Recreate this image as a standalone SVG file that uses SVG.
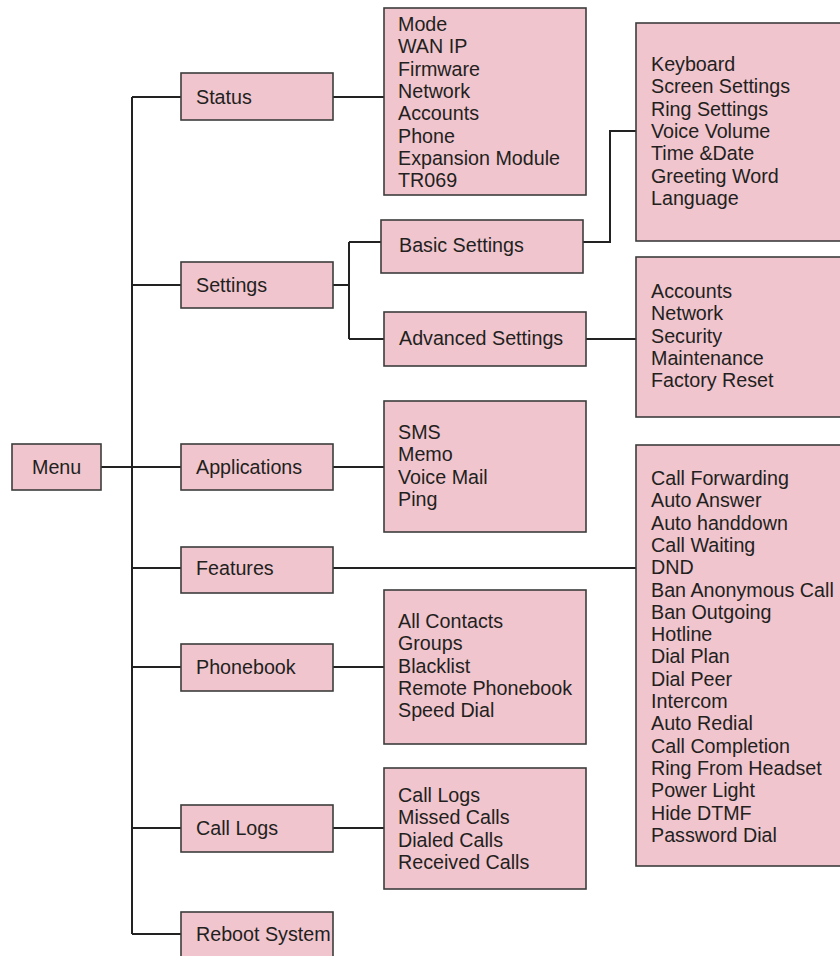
<svg xmlns="http://www.w3.org/2000/svg" width="840" height="956" viewBox="0 0 840 956">
<style>
.box{fill:#f0c5ce;stroke:#3c3c3c;stroke-width:1.6}
.ln{fill:none;stroke:#222;stroke-width:2}
text{font-family:"Liberation Sans",Arial,sans-serif;font-size:19.7px;fill:#231f20}
</style>
<rect width="840" height="956" fill="#fff"/>
<g id="connectors">
<path class="ln" d="M132,97 V934"/>
<path class="ln" d="M101,467 H181"/>
<path class="ln" d="M132,97 H181 M132,285 H181 M132,568 H181 M132,667 H181 M132,828 H181 M132,934 H181"/>
<path class="ln" d="M333,97 H384"/>
<path class="ln" d="M333,285 H349 M349,242 V339 M349,242 H381 M349,339 H384"/>
<path class="ln" d="M583,242 H610 V131 H636"/>
<path class="ln" d="M586,339 H636"/>
<path class="ln" d="M333,467 H384"/>
<path class="ln" d="M333,568 H636"/>
<path class="ln" d="M333,667 H384"/>
<path class="ln" d="M333,828 H384"/>
</g>
<g id="menu"><rect class="box" x="12" y="444" width="89" height="46"/><text x="32" y="474">Menu</text></g>
<g id="status"><rect class="box" x="181" y="73" width="152" height="47"/><text x="196" y="104">Status</text></g>
<g id="settings"><rect class="box" x="181" y="262" width="152" height="46"/><text x="196" y="292">Settings</text></g>
<g id="applications"><rect class="box" x="181" y="444" width="152" height="46"/><text x="196" y="474">Applications</text></g>
<g id="features"><rect class="box" x="181" y="547" width="152" height="46"/><text x="196" y="575">Features</text></g>
<g id="phonebook"><rect class="box" x="181" y="644" width="152" height="47"/><text x="196" y="674">Phonebook</text></g>
<g id="calllogs"><rect class="box" x="181" y="805" width="152" height="47"/><text x="196" y="835">Call Logs</text></g>
<g id="reboot"><rect class="box" x="181" y="912" width="152" height="60"/><text x="196" y="941">Reboot System</text></g>
<g id="status-list"><rect class="box" x="384" y="8" width="202" height="187"/>
<text x="398" y="31">Mode</text><text x="398" y="53.3">WAN IP</text><text x="398" y="75.6">Firmware</text><text x="398" y="97.9">Network</text><text x="398" y="120.2">Accounts</text><text x="398" y="142.5">Phone</text><text x="398" y="164.8">Expansion Module</text><text x="398" y="187.1">TR069</text></g>
<g id="basic"><rect class="box" x="381" y="220" width="202" height="53"/><text x="399" y="252">Basic Settings</text></g>
<g id="advanced"><rect class="box" x="384" y="312" width="202" height="54"/><text x="399" y="344.5">Advanced Settings</text></g>
<g id="basic-list"><rect class="box" x="636" y="23" width="210" height="218"/>
<text x="651" y="71">Keyboard</text><text x="651" y="93.3">Screen Settings</text><text x="651" y="115.6">Ring Settings</text><text x="651" y="137.9">Voice Volume</text><text x="651" y="160.2">Time &amp;Date</text><text x="651" y="182.5">Greeting Word</text><text x="651" y="204.8">Language</text></g>
<g id="advanced-list"><rect class="box" x="636" y="257" width="210" height="160"/>
<text x="651" y="298">Accounts</text><text x="651" y="320.3">Network</text><text x="651" y="342.6">Security</text><text x="651" y="364.9">Maintenance</text><text x="651" y="387.2">Factory Reset</text></g>
<g id="apps-list"><rect class="box" x="384" y="401" width="202" height="131"/>
<text x="398" y="439">SMS</text><text x="398" y="461.3">Memo</text><text x="398" y="483.6">Voice Mail</text><text x="398" y="505.9">Ping</text></g>
<g id="features-list"><rect class="box" x="636" y="445" width="210" height="421"/>
<text x="651" y="485">Call Forwarding</text><text x="651" y="507.3">Auto Answer</text><text x="651" y="529.6">Auto handdown</text><text x="651" y="551.9">Call Waiting</text><text x="651" y="574.2">DND</text><text x="651" y="596.5">Ban Anonymous Call</text><text x="651" y="618.8">Ban Outgoing</text><text x="651" y="641.1">Hotline</text><text x="651" y="663.4">Dial Plan</text><text x="651" y="685.7">Dial Peer</text><text x="651" y="708">Intercom</text><text x="651" y="730.3">Auto Redial</text><text x="651" y="752.6">Call Completion</text><text x="651" y="774.9">Ring From Headset</text><text x="651" y="797.2">Power Light</text><text x="651" y="819.5">Hide DTMF</text><text x="651" y="841.8">Password Dial</text></g>
<g id="phonebook-list"><rect class="box" x="384" y="590" width="202" height="154"/>
<text x="398" y="628">All Contacts</text><text x="398" y="650.3">Groups</text><text x="398" y="672.6">Blacklist</text><text x="398" y="694.9">Remote Phonebook</text><text x="398" y="717.2">Speed Dial</text></g>
<g id="calllogs-list"><rect class="box" x="384" y="768" width="202" height="121"/>
<text x="398" y="802">Call Logs</text><text x="398" y="824.3">Missed Calls</text><text x="398" y="846.6">Dialed Calls</text><text x="398" y="868.9">Received Calls</text></g>
</svg>
